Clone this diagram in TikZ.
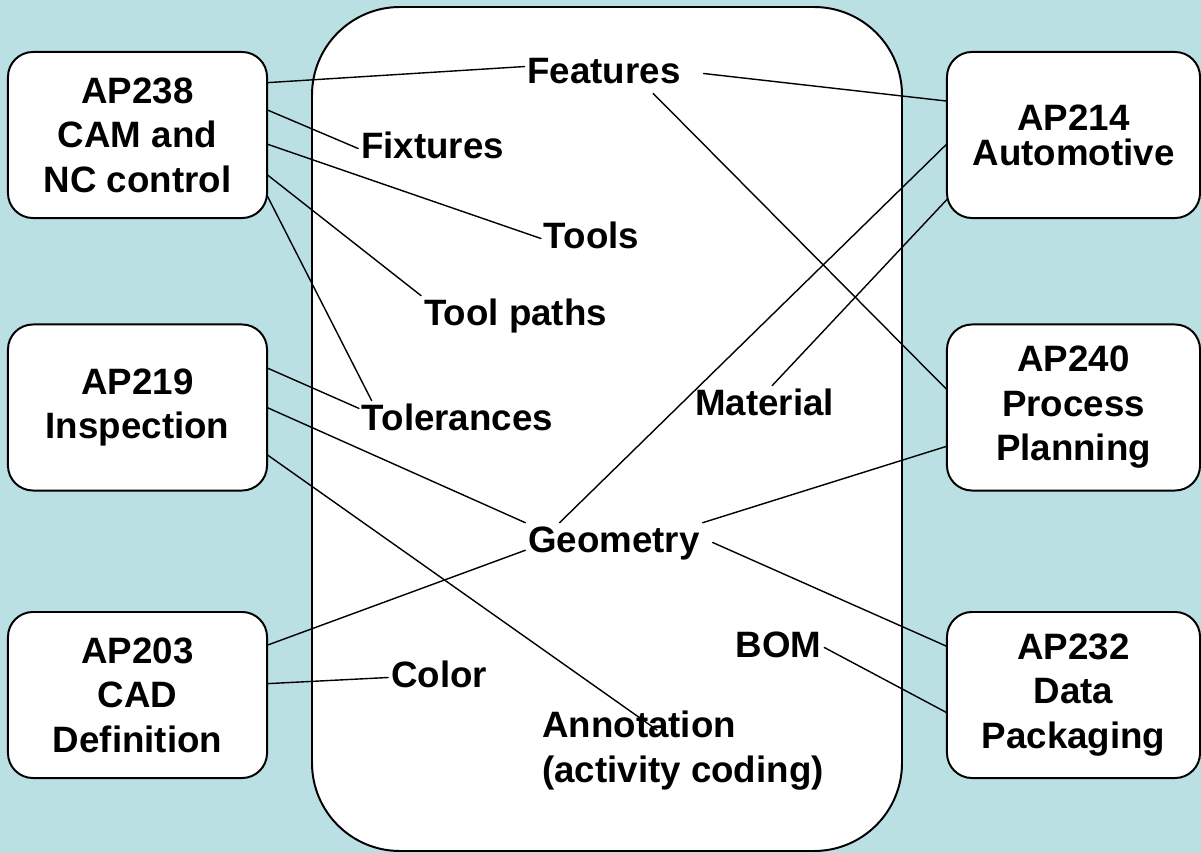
\documentclass[tikz,border=0pt]{standalone}
\usepackage{fontspec}
\setmainfont{Liberation Sans}
\definecolor{sky}{RGB}{187,224,227}
\newcommand{\apfont}{\fontsize{26.1}{31.6}\selectfont\bfseries}

\begin{document}
\begin{tikzpicture}[x=0.025cm,y=-0.025cm,line join=round,line cap=round,font=\apfont,
	ap/.style={draw,fill=white,line width=1.4pt,rounded corners=0.625cm,align=center,minimum height=4.15cm,inner sep=0pt,outer sep=0pt},
	apl/.style={ap,minimum width=6.475cm},
	apr/.style={ap,minimum width=6.325cm},
	item/.style={inner sep=0.075cm,outer sep=0pt,text height=0.66cm,text depth=0.18cm},
	link/.style={line width=1pt}]
	\fill[sky] (0,0) rectangle (1201,853);
	\useasboundingbox (0,0) rectangle (1201,853);
	\draw[fill=white,line width=1.4pt,rounded corners=2.2cm] (312,7) rectangle (902,851);
	
	% application protocols
	\node[apl] (ap238) at (137.5,135) {AP238\\CAM and\\NC control};
	\node[apl] (ap219) at (137.5,407.5) {AP219\\Inspection};
	\node[apl] (ap203) at (137.5,695) {AP203\\CAD\\Definition};
	\node[apr,font=\fontsize{26.1}{24.9}\selectfont\bfseries] (ap214) at (1073.5,135) {AP214\\Automotive};
	\node[apr] (ap240) at (1073.5,407.5) {AP240\\Process\\Planning};
	\node[apr] (ap232) at (1073.5,695) {AP232\\Data\\Packaging};
	
	% shared data
	\node[item] (features) at (604,73.5) {Features};
	\node[item] (fixtures) at (432.5,148.5) {Fixtures};
	\node[item] (tools) at (591.5,238.5) {Tools};
	\node[item] (toolpaths) at (515.5,315.5) {Tool paths};
	\node[item] (tolerances) at (457.5,420.5) {Tolerances};
	\node[item] (material) at (764.5,405.5) {Material};
	\node[item] (geometry) at (614,542.5) {Geometry};
	\node[item] (color) at (439,677.5) {Color};
	\node[item] (bom) at (778.5,647.5) {BOM};
	\node[inner sep=0.075cm,align=left,anchor=base west] (annotation) at (539,782) {Annotation\\(activity coding)};
	
	\draw[link] (ap238.22) -- (features.175);
	\draw[link] (ap238.11) -- (fixtures.west);
	\draw[link] (ap238.-4) -- (tools.west);
	\draw[link] (ap238.-17) -- (toolpaths.north west);
	\draw[link] (ap238.-25) -- (tolerances.167);
	\draw[link] (ap219.17) -- (tolerances.173);
	\draw[link] (ap219.east) -- (geometry.north west);
	\draw[link] (ap219.-20) -- ([shift={(118,-52)}]annotation.base west);
	\draw[link] (ap203.21) -- (geometry.185);
	\draw[link] (ap203.5) -- (color.west);
	\draw[link] ([xshift=0.5cm]features.east) -- (ap214.165);
	\draw[link] (features.-22) -- (ap240.172);
	\draw[link] (geometry.160) -- (ap214.184);
	\draw[link] (material.69) -- (ap214.207);
	\draw[link] (geometry.north east) -- (ap240.197);
	\draw[link] ([xshift=0.25cm]geometry.east) -- (ap232.159);
	\draw[link] (bom.east) -- (ap232.188);
\end{tikzpicture}
\end{document}
